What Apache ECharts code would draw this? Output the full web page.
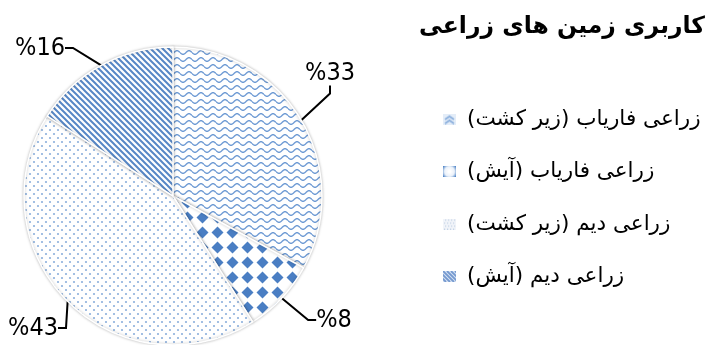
<!DOCTYPE html>
<html>
<head>
<meta charset="utf-8">
<script src="https://cdn.jsdelivr.net/npm/echarts@6/dist/echarts.min.js"></script>
<style>
  html, body { margin: 0; padding: 0; background: #fff; }
  #chart { width: 712px; height: 345px; }
</style>
</head>
<body>
<div id="chart" dir="rtl"></div>
<script>
// 数据：四类用地占比（%），顺时针自 12 点起
const categories = ['زراعی فاریاب (زیر کشت)', 'زراعی فاریاب (آیش)', 'زراعی دیم (زیر کشت)', 'زراعی دیم (آیش)'];
const shares = [33, 8, 43, 16];
const titleText = 'کاربری زمین های زراعی';

// 外侧标签中心（像素），与原图的引线位置对齐
const labelAt = [[330, 73], [334, 320], [33, 328], [40, 48]];

const FA = '"DejaVu Sans", "Noto Sans", sans-serif';
const NARROW = '"Liberation Sans Narrow", "DejaVu Sans Condensed", "Liberation Sans", sans-serif';

// 填充图案（canvas tile）
function canvas(w, h, bg, draw) {
  const c = document.createElement('canvas');
  c.width = w; c.height = h;
  const g = c.getContext('2d');
  g.fillStyle = bg; g.fillRect(0, 0, w, h);
  draw(g, w, h);
  return c;
}
const pat = (c) => ({ image: c, repeat: 'repeat' });

const wave = pat(canvas(12, 7, '#fff', (g, w) => {
  g.strokeStyle = '#6f9bd4'; g.lineWidth = 1.4;
  g.beginPath();
  for (let x = 0; x <= w; x += 0.5) {
    const y = 3.5 + 1.8 * Math.sin((x / w) * Math.PI * 2);
    x === 0 ? g.moveTo(x, y) : g.lineTo(x, y);
  }
  g.stroke();
}));

const checker = pat(canvas(15, 15, '#fff', (g) => {
  g.fillStyle = '#4a7ec3';
  g.beginPath();
  g.moveTo(7.5, 1.5); g.lineTo(13.5, 7.5); g.lineTo(7.5, 13.5); g.lineTo(1.5, 7.5);
  g.closePath(); g.fill();
}));

const dots = pat(canvas(8, 8, '#fff', (g) => {
  g.fillStyle = '#8db0dc';
  [[2, 2], [6, 6]].forEach(([x, y]) => { g.beginPath(); g.arc(x, y, 1.1, 0, Math.PI * 2); g.fill(); });
}));

const stripes = pat(canvas(6, 6, '#fff', (g) => {
  g.strokeStyle = '#5787c6'; g.lineWidth = 2;
  g.beginPath();
  g.moveTo(-3, -3); g.lineTo(9, 9);
  g.moveTo(-3, 3); g.lineTo(3, 9);
  g.moveTo(3, -3); g.lineTo(9, 3);
  g.stroke();
}));

const fills = [wave, checker, dots, stripes];

// 图例小图标（仿 Excel 缩略图案）
const icons = [
  canvas(13, 11, '#e4edf8', (g) => {
    g.strokeStyle = '#8fb2de'; g.lineWidth = 2;
    [3, 7].forEach((y) => { g.beginPath(); g.moveTo(2, y + 3); g.lineTo(6.5, y); g.lineTo(11, y + 3); g.stroke(); });
  }),
  canvas(13, 11, '#fff', (g) => {
    const gr = g.createRadialGradient(6.5, 5.5, 1, 6.5, 5.5, 8);
    gr.addColorStop(0, '#ffffff'); gr.addColorStop(0.55, '#eaf1fa'); gr.addColorStop(1, '#4f84c6');
    g.fillStyle = gr; g.fillRect(0, 0, 13, 11);
  }),
  canvas(13, 11, '#f1f4f9', (g) => {
    g.fillStyle = '#c5d3e6';
    for (let y = 1; y < 11; y += 3) for (let x = (y % 2) + 1; x < 13; x += 3) g.fillRect(x, y, 1.2, 1.2);
  }),
  canvas(13, 11, '#d7e3f3', (g) => {
    g.strokeStyle = '#7599cf'; g.lineWidth = 1.8;
    g.beginPath();
    for (let k = -12; k < 14; k += 4) { g.moveTo(k, 0); g.lineTo(k + 11, 11); }
    g.stroke();
  }),
].map((c) => 'image://' + c.toDataURL());

const chart = echarts.init(document.getElementById('chart'), null, { renderer: 'canvas' });
chart.setOption({
  animation: false,
  title: {
    text: titleText, right: 7, top: 15, padding: 0,
    textStyle: { fontFamily: FA, fontSize: 23.5, fontWeight: 'bold', color: '#000' },
  },
  legend: {
    orient: 'vertical', left: 438, top: 103, align: 'left',
    itemWidth: 13, itemHeight: 11, itemGap: 30.5,
    textStyle: { fontFamily: FA, fontSize: 21.5, color: '#000', padding: [0, 0, 0, 6] },
    data: categories.map((name, i) => ({ name, icon: icons[i] })),
  },
  series: [{
    type: 'pie', center: [173, 196], radius: 149, startAngle: 90, clockwise: true,
    data: categories.map((name, i) => ({ name, value: shares[i], itemStyle: { color: fills[i] } })),
    itemStyle: { borderColor: '#fff', borderWidth: 1.5, shadowBlur: 3, shadowColor: 'rgba(0,0,0,0.25)' },
    label: {
      show: true, position: 'outside', formatter: (p) => '%' + p.value, overflow: 'none',
      fontFamily: NARROW, fontSize: 25, color: '#000',
    },
    labelLine: { show: true, length: 22, length2: 8, lineStyle: { color: '#000', width: 2 } },
    labelLayout: (p) => ({
      x: labelAt[p.dataIndex][0], y: labelAt[p.dataIndex][1],
      align: 'center', verticalAlign: 'middle',
    }),
    emphasis: { disabled: true },
  }],
});
</script>
</body>
</html>
